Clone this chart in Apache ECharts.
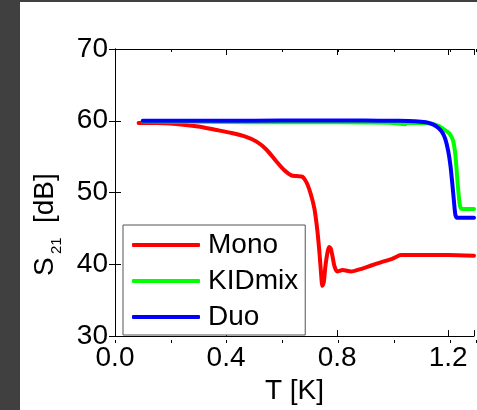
<!DOCTYPE html>
<html><head><meta charset="utf-8">
<script src="https://cdn.jsdelivr.net/npm/echarts@6/dist/echarts.min.js"></script>
<style>
html,body{margin:0;padding:0;background:#404040;width:477px;height:410px;overflow:hidden}
#c{position:absolute;left:20px;top:2px;width:457px;height:408px;background:#fff}
</style></head>
<body><div id="c"></div>
<script>
// ---- data ----
const seriesNames = ['Mono', 'KIDmix', 'Duo'];
const xTickLabels = ['0.0', '0.4', '0.8', '1.2'];
const yTickLabels = ['30', '40', '50', '60', '70'];
const monoT =   [0.085, 0.15, 0.22, 0.30, 0.36, 0.42, 0.47, 0.51, 0.545, 0.58, 0.61, 0.635, 0.655, 0.675, 0.69, 0.705, 0.718, 0.728, 0.736, 0.742, 0.747, 0.752, 0.758, 0.765, 0.771, 0.777, 0.783, 0.79, 0.80, 0.82, 0.85, 0.88, 0.92, 0.96, 1.00, 1.03, 1.1, 1.2, 1.293];
const monoS21 = [59.7, 59.7, 59.55, 59.2, 58.75, 58.3, 57.8, 57.1, 56.0, 54.4, 53.1, 52.4, 52.3, 52.2, 51.4, 49.8, 47.8, 45.0, 41.8, 38.8, 37.0, 37.5, 39.8, 41.6, 42.4, 42.2, 41.2, 39.8, 39.0, 39.2, 39.0, 39.3, 39.8, 40.3, 40.8, 41.3, 41.3, 41.3, 41.2];
const kidmixT =   [0.10, 0.3, 0.5, 0.7, 0.9, 1.0, 1.045, 1.05, 1.1, 1.14, 1.165, 1.185, 1.205, 1.218, 1.226, 1.232, 1.238, 1.243, 1.25, 1.27, 1.293];
const kidmixS21 = [59.95, 59.85, 59.8, 59.8, 59.75, 59.7, 59.5, 59.7, 59.7, 59.6, 59.3, 58.8, 58.2, 57.2, 55.2, 52.3, 49.6, 48.1, 47.7, 47.7, 47.7];
const duoT =   [0.10, 0.3, 0.5, 0.7, 0.9, 1.0, 1.08, 1.12, 1.145, 1.165, 1.18, 1.19, 1.20, 1.208, 1.215, 1.221, 1.226, 1.232, 1.25, 1.293];
const duoS21 = [60.0, 60.0, 60.0, 60.05, 60.05, 60.0, 59.95, 59.8, 59.5, 59.0, 58.3, 57.4, 55.8, 53.8, 51.2, 48.7, 46.9, 46.5, 46.5, 46.5];
const colors = ['#ff0000', '#00ff00', '#0000ff'];

const XMIN = 0, XMAX = 1.293, YMIN = 30, YMAX = 70;
const FONT = '"Liberation Sans", Arial, sans-serif';
const zip = (a, b) => a.map((v, i) => [v, b[i]]);
const seriesData = [zip(monoT, monoS21), zip(kidmixT, kidmixS21), zip(duoT, duoS21)];

const gridPos = {left: 95, top: 47, right: 1, bottom: 67};
const black = '#000';
function xAx(gi, pos, interval, len, opts) {
  return Object.assign({
    type: 'value', gridIndex: gi, position: pos, min: XMIN, max: XMAX, interval: interval,
    axisLine: {show: gi === 0, onZero: false, lineStyle: {color: black, width: 1}},
    axisTick: {show: true, inside: true, length: len, lineStyle: {color: black, width: 1}},
    axisLabel: {show: false}, splitLine: {show: false}
  }, opts || {});
}
const chart = echarts.init(document.getElementById('c'), null, {renderer: 'canvas'});
chart.setOption({
  animation: false,
  textStyle: {fontFamily: FONT},
  grid: [Object.assign({}, gridPos), Object.assign({}, gridPos)],
  xAxis: [
    xAx(0, 'bottom', 0.4, 6, {
      axisLabel: {show: true, fontSize: 28, color: black, fontFamily: FONT, margin: 8,
        formatter: v => { const k = Math.round(v / 0.4); return Math.abs(v - k * 0.4) < 1e-6 ? xTickLabels[k] : ''; }},
      name: 'T [K]', nameLocation: 'middle', nameGap: 34,
      nameTextStyle: {fontSize: 28, color: black, fontFamily: FONT}
    }),
    xAx(0, 'top', 0.4, 6),
    xAx(1, 'bottom', 0.2, 3),
    xAx(1, 'top', 0.2, 3)
  ],
  yAxis: [
    {type: 'value', gridIndex: 0, position: 'left', min: YMIN, max: YMAX, interval: 10,
      axisLine: {show: true, lineStyle: {color: black, width: 1}},
      axisTick: {show: true, inside: true, length: 6, lineStyle: {color: black}},
      axisLabel: {fontSize: 28, color: black, fontFamily: FONT, margin: 7,
        formatter: v => yTickLabels[Math.round((v - YMIN) / 10)] || ''},
      splitLine: {show: false}},
    {type: 'value', gridIndex: 0, position: 'right', min: YMIN, max: YMAX, interval: 10,
      axisLine: {show: true, lineStyle: {color: black, width: 1}},
      axisTick: {show: true, inside: true, length: 6, lineStyle: {color: black}},
      axisLabel: {show: false}, splitLine: {show: false}},
    {type: 'value', gridIndex: 1, min: YMIN, max: YMAX, show: false}
  ],
  legend: {
    data: seriesNames, orient: 'vertical', left: 103, top: 223,
    padding: [2, 7, 0, 9], itemGap: 0, itemWidth: 68, itemHeight: 4, icon: 'roundRect',
    backgroundColor: '#fff', borderColor: '#555', borderWidth: 1, borderRadius: 0,
    textStyle: {fontSize: 28, lineHeight: 36, color: black, fontFamily: FONT, padding: [0, 0, 0, 3]}
  },
  series: seriesNames.map((n, i) => ({
    name: n, type: 'line', xAxisIndex: 0, yAxisIndex: 0, data: seriesData[i],
    showSymbol: false, symbol: 'none', smooth: 0.25, color: colors[i],
    lineStyle: {width: 4, color: colors[i], cap: 'round', join: 'round'},
    itemStyle: {color: colors[i]}
  })),
  graphic: [{
    type: 'group', x: 25, y: 274, rotation: Math.PI / 2,
    children: [
      {type: 'text', x: 0, y: 0, style: {text: 'S', fontSize: 28, fontFamily: FONT, fill: black, align: 'left', verticalAlign: 'middle'}},
      {type: 'text', x: 22, y: 12, style: {text: '21', fontSize: 15, fontFamily: FONT, fill: black, align: 'left', verticalAlign: 'middle'}},
      {type: 'text', x: 53, y: 0, style: {text: '[dB]', fontSize: 28, fontFamily: FONT, fill: black, align: 'left', verticalAlign: 'middle'}}
    ]
  }]
});
</script></body></html>
